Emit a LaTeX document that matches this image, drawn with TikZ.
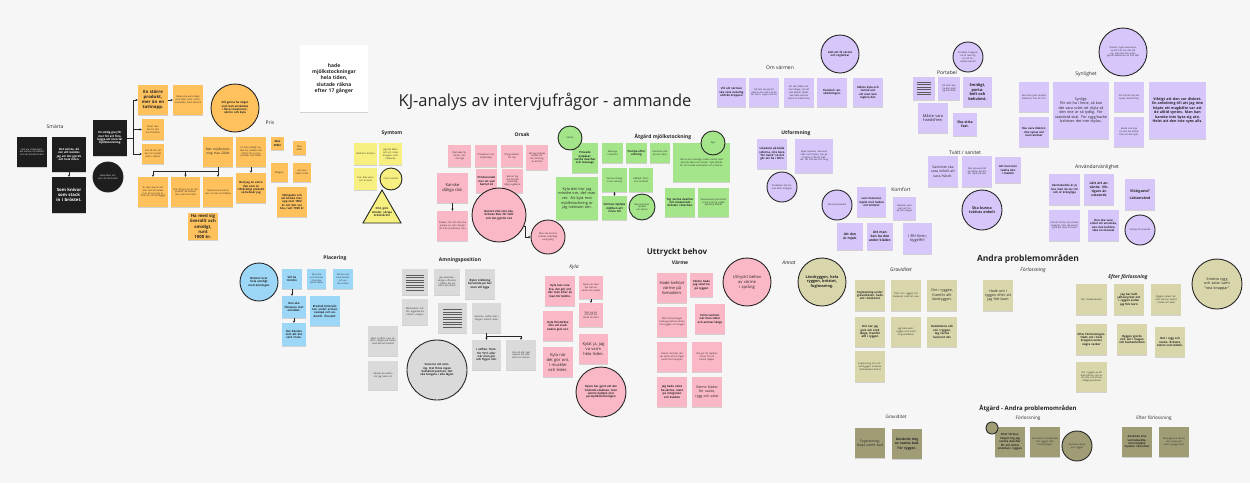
\documentclass[tikz,border=0pt]{standalone}
\usepackage{fontspec}
\setmainfont{Open Sans}
\usetikzlibrary{arrows.meta,shadows,shapes.geometric}

\definecolor{bgc}{RGB}{246,246,246}
\definecolor{ink}{RGB}{38,38,38}
\definecolor{blk}{RGB}{30,30,30}
\definecolor{org}{RGB}{255,193,92}
\definecolor{ylw}{RGB}{247,239,128}
\definecolor{pnk}{RGB}{250,183,197}
\definecolor{grn}{RGB}{164,229,138}
\definecolor{prp}{RGB}{214,198,250}
\definecolor{blu}{RGB}{156,215,248}
\definecolor{gry}{RGB}{218,218,218}
\definecolor{tan}{RGB}{216,214,170}
\definecolor{dtan}{RGB}{160,157,118}

% font sizes for sticky texts
\newcommand\fta{\fontsize{2.3}{2.8}\selectfont}
\newcommand\ftb{\fontsize{2.8}{3.4}\selectfont\bfseries}
\newcommand\ftc{\fontsize{4.1}{5}\selectfont}
\newcommand\ftd{\fontsize{4.3}{5.2}\selectfont\bfseries}
\newcommand\fth{\fontsize{5}{6}\selectfont}

\begin{document}
\begin{tikzpicture}[x=1pt,y=-1pt,
  note/.style={rectangle, inner sep=1pt, align=center, font=\fta, text=ink,
    drop shadow={shadow xshift=0.3pt, shadow yshift=-0.6pt, opacity=0.15, fill=black}},
  wh/.code 2 args={\pgfmathsetmacro\mynw{#1-3}\edef\mytmpa{\noexpand\tikzset{minimum width=#1pt,minimum height=#2pt,text width=\mynw pt}}\mytmpa},
  cr/.code={\pgfmathsetmacro\mycd{2*#1}\pgfmathsetmacro\myct{1.4*#1}\edef\mytmpb{\noexpand\tikzset{minimum size=\mycd pt,text width=\myct pt}}\mytmpb},
  circ/.style={circle, draw=ink, line width=0.9pt, inner sep=0pt, align=center, font=\fta, text=ink},
  nk/.style={note, fill=blk, text=white},
  no/.style={note, fill=org},
  ny/.style={note, fill=ylw},
  np/.style={note, fill=pnk},
  ng/.style={note, fill=grn},
  nv/.style={note, fill=prp},
  nb/.style={note, fill=blu},
  nq/.style={note, fill=gry},
  nt/.style={note, fill=tan},
  nd/.style={note, fill=dtan},
  lab/.style={font=\fth, text=ink},
  labb/.style={font=\fth\bfseries, text=ink},
  labi/.style={font=\fth\itshape, text=ink},
  arr/.style={-{Stealth[length=2.3pt,width=2.4pt]}, draw=ink, line width=0.6pt},
  rule/.style={draw=ink!75, line width=0.55pt}]

\useasboundingbox (0,0) rectangle (1250,483);
\fill[bgc] (0,0) rectangle (1250,483);

% ---------- title and quote ----------
\node[font=\fontsize{16.5}{19}\selectfont, text=ink] (title) at (545,102) {KJ-analys av intervjufrågor - ammande};
\node[note, fill=white, wh={68}{67}, font=\fontsize{5}{6.4}\selectfont\bfseries] (quote) at (334,78.5)
  {hade\\mjölkstockningar\\hela tiden,\\slutade räkna\\efter 17 gånger};

% ---------- Smärta ----------
\node[lab] (lsmarta) at (55,127) {Smärta};
\node[nk, wh={30}{30}] (k1) at (32,152) {Det var smärtsamt, det värkte och kändes som att bröstet brann};
\node[nk, wh={34}{35}, font=\ftb] (k2) at (69,154.5) {Det värsta, då när allt kändes jag att det gjorde ont hela tiden.};
\node[nk, wh={34}{36}, font=\ftd] (k3) at (69,195) {Som knivar som stack in i bröstet.};
\node[nk, wh={34}{36}, font=\ftb] (k4) at (110,138) {En viktig grej för mer för att förebygga att man får mjölkstockning.};
\node[circ, fill=blk, text=white, cr=15] (kc) at (108,177) {Hela tiden ont, som att det brann};

% ---------- Pris ----------
\node[no, wh={30}{30}, font=\ftd] (o1) at (153,100) {En större produkt, mer än en tuttnapp.};
\node[no, wh={30}{30}] (o2) at (188,100) {Skulle inte vara något som följer med i mammaväskan, bara hemma};
\node[no, wh={22}{21}] (o3) at (153,129.5) {Så att man kan ha den hos föräldrar};
\node[no, wh={22}{20}] (o4) at (153,154) {Inte så stor att den tar mycket plats i väskan};
\node[circ, fill=org, cr=24, font=\ftb] (oc) at (235,108) {Vill gärna ha något som kan användas i flera situationer, värme och kyla};
\node[lab] (lpris) at (270,123) {Pris};
\node[no, wh={30}{30}, font=\fontsize{3.2}{3.9}\selectfont] (p1) at (218,152) {Max mjölkstockning max 200kr};
\node[no, wh={30}{30}] (p2) at (251,152) {Är man väldigt mycket har betalat runt 500 kr för en bra produkt som håller};
\node[no, wh={13}{13}, font=\ftb] (p3) at (277.5,143.5) {Max 300kr};
\node[no, wh={13}{14}] (p4) at (299.5,148) {Max 400kr};
\node[no, wh={17}{19}] (p5) at (279.5,172.5) {Billigare};
\node[no, wh={18}{19}] (p6) at (302,172.5) {Inte över 500kr totalt};
\node[no, wh={30}{30}, font=\ftb] (p7) at (251,188) {Bed jag en extra den som är tillräckligt produkt så betalar jag};
\node[no, wh={30}{30}, font=\ftb] (p8) at (292,202) {Viktigaste och att betala mer, upp mot 1000 kr om den var bra, runt 1000 kr};
\node[no, wh={30}{30}] (q1) at (153,192) {Är man sjuk är det mer värt att betala mer än om man är frisk och vill förebygga};
\node[no, wh={29}{30}] (q2) at (185.5,192) {Om det gör ont är det prisvärt, då betalar man vad som helst};
\node[no, wh={30}{30}] (q3) at (218,192) {Skulle kunna betala mer om den var hållbar};
\node[no, wh={30}{27}, font=\ftd] (q4) at (203,226.5) {Ha med sig överallt och smidigt, runt 1000 kr.};

\draw[arr] (k2) -- (k3);
\draw[arr] (k4.east) -- ++(6,0) |- (o1.west);
\draw[arr] (k4.east) -- ++(6,0) |- (o3.west);
\draw[arr] (k4.east) -- ++(6,0) |- (o4.west);
\draw[arr] (o1) -- (o2);
\draw[arr] (p1.south) -- ++(0,4) -| (q1.north);
\draw[arr] (p1.south) -- ++(0,4) -| (q2.north);
\draw[arr] (p1.south) -- (q3.north);
\draw[arr] (p2) -- (p7);

% ---------- Symtom ----------
\node[labb] (lsymtom) at (392,133) {Symtom};
\node[ny, wh={23}{22}] (y1) at (365.5,154) {Rodnad i bröstet};
\node[ny, wh={23}{22}] (y2) at (390.5,154) {Jag fick feber och ont i hela kroppen, som influensa};
\node[ny, wh={23}{22}] (y3) at (365.5,179) {Ont, blev varm och en knöl};
\node[circ, fill=ylw, cr=11] (yc) at (391,179) {Knöl i bröstet};
\node[regular polygon, regular polygon sides=3, minimum size=44pt, inner sep=0pt, fill=ylw, draw=ink, line width=0.9pt] (ytri) at (382,212) {};
\node[font=\ftb, text=ink, align=center, text width=20pt] (ytxt) at (382,212) {Ont, gick sönder, såriga bröstvårtor};

% ---------- Orsak ----------
\node[labb] (lorsak) at (522,135) {Orsak};
\node[np, wh={23}{22}] (r1) at (459.5,156) {Öppnade flytande. Sov i fel läge};
\node[np, wh={22}{22}] (r2) at (486,156) {Produktion och mjölkstopp};
\node[np, wh={22}{22}] (r3) at (512,156) {Trånga kläder, för tajt};
\node[np, wh={22}{25}] (r4) at (537,157.5) {När jag slutade amma, för lite tömning av bröstet};
\node[np, wh={21}{24}, font=\ftb] (r5) at (486.5,181) {Producerade mer än vad barnet åt};
\node[np, wh={21}{24}] (r6) at (512.5,181) {Barnet tog inte bröstet ordentligt, dålig sugteknik};
\node[np, wh={31}{30}, font=\ftc] (r7) at (452.5,188) {Kanske dåliga råd.};
\node[np, wh={31}{30}] (r8) at (452.5,226) {Osäker, hört att man ska pumpa ut, men det gör att man producerar mer};
\node[circ, fill=pnk, cr=27, font=\ftb] (rc1) at (499,215) {Barnet ville inte äta, bröstet blev för fullt och det gjorde ont};
\node[circ, fill=pnk, cr=17] (rc2) at (548,237) {Man ska tömma bröstet ordentligt varje gång};
\draw[arr] (r7) -- (r8);
\draw[arr] (rc1.-25) -- ++(1,0) |- (rc2.west);

% ---------- Åtgärd mjölkstockning ----------
\node[labb] (latgard) at (663,137) {Åtgärd mjölkstockning};
\node[ng, wh={26}{30}, font=\ftb] (g1) at (585,158) {Provade kylpåsar, varma duschar och massage};
\node[ng, wh={21}{20}] (g2) at (612.5,153) {Massage i duschen};
\node[ng, wh={21}{20}, font=\ftb] (g3) at (636.5,153) {Pumpa efter amning};
\node[ng, wh={20}{20}] (g4) at (660,153) {Ammade ofta på den sidan};
\node[ng, wh={57}{39}] (g5) at (701.5,162.5) {Värme och massage, sedan amma med barnets haka mot knölen. Kyla efteråt för att minska svullnaden och smärtan.};
\node[circ, fill=grn, cr=12] (gc1) at (570,138) {Värme};
\node[circ, fill=grn, cr=12] (gc2) at (713,143) {Kyla};
\node[ng, wh={42}{43}, font=\fontsize{3.8}{4.7}\selectfont] (g6) at (577,198.5) {Kyla det tror jag mindre om, det man vet. Att kyla mot mjölkstockning är jag tveksam om.};
\node[ng, wh={25}{24}] (g7) at (614.5,180) {Varma omslag innan amning};
\node[ng, wh={24}{24}] (g8) at (641,180) {Kålblad i BH:n mot svullnad};
\node[ng, wh={25}{24}, font=\ftb] (g9) at (614.5,208) {Värmen hjälpte mjölken att rinna till};
\node[circ, fill=grn, cr=13] (gc3) at (642,207) {Barnmorskan tipsade om värme};
\node[ng, wh={30}{29}, font=\ftb] (g10) at (680,202.5) {Tog varma duschar och masserade bröstet i duschen};
\node[ng, wh={31}{29}] (g11) at (713.5,202.5) {Värmekudde på bröstet innan amning, sedan kylklamp efteråt};
\draw[arr] (g7) -- (g9);

% ---------- Placering ----------
\node[labb] (lplac) at (335,258) {Placering};
\node[circ, fill=blu, cr=19, font=\ftb] (bc) at (259,282) {Bröstet över hela smidigt med amningen};
\node[nb, wh={20}{20}, font=\ftb] (b1) at (292,279) {Vill ha mindre};
\node[nb, wh={19}{20}] (b2) at (316.5,279) {Ska sitta runt bröstet, inte bara på ett ställe};
\node[nb, wh={20}{20}] (b3) at (343,279) {Värme runt hela bröstet och under armen};
\node[nb, wh={24}{22}, font=\ftb] (b4) at (294,307) {Den ska fokusera mot området.};
\node[nb, wh={30}{30}, font=\ftb] (b5) at (325,311) {Bredvid bröstvårtan, under armen, ovanpå och undertill. Överallt.};
\node[nb, wh={24}{23}, font=\ftb] (b6) at (294,334.5) {Det kändes som att det satt i hela.};
\draw[arr] (b1.south) -- (b1.south |- b4.north);
\draw[arr] (b4) -- (b6);

% ---------- Amningsposition ----------
\node[labb] (lamn) at (460,260) {Amningsposition};
\node[nq, wh={26}{26}] (h1) at (415,282) {};
\node[nq, wh={26}{26}] (h2) at (447,282) {Jag ammade i sängen ofta eller i soffan, det var skönt på natten};
\node[nq, wh={30}{30}, font=\ftb] (h3) at (480,284) {Byter ställning beroende på hur man vill ligga};
\node[nq, wh={26}{26}] (h4) at (415,312) {Med kudde i soffan, liggande på natten i sängen};
\node[nq, wh={29}{30}] (h5) at (452.5,318) {};
\node[nq, wh={29}{30}] (h6) at (486.5,318) {Hemma i soffan eller i sängen, ibland i bilen};
\node[nq, wh={29}{30}, font=\ftb] (h7) at (486.5,355) {I soffan, framför TV:n eller när man gör och flyger nåt.};
\node[nq, wh={30}{30}] (h8) at (521,355) {Ute och går med vagnen, på café eller hos vänner};
\node[nq, wh={30}{30}] (h9) at (383,341) {Mest i soffan, men ibland i sängen på natten med barnet bredvid};
\node[nq, wh={30}{29}] (h10) at (383,375.5) {Mycket på natten när jag hade ont};
\node[circ, fill=gry, cr=30, font=\ftb] (hc) at (437,370) {Varierar vid amning. Det finns ingen bestämd position, det ska fungera i alla lägen};
\foreach \yy in {275,277.5,280,282.5,285,287.5,290}
  \draw[rule] (406,\yy) -- (424,\yy);
\foreach \yy in {309.5,312,314.5,317,319.5,322,324.5,327}
  \draw[rule] (443,\yy) -- (462,\yy);
\draw[arr] (h6.south) -- ++(0,3.5) -| (h7.north);
\draw[arr] (h6.south) -- ++(0,3.5) -| (h8.north);

% ---------- Kyla ----------
\node[labi] (lkyla) at (574,267) {Kyla};
\node[np, wh={30}{30}, font=\ftb] (ka) at (560,291) {Kyla kan vara bra, det gör ont där men efter så man får bättre.};
\node[np, wh={24}{23}] (kb) at (591,287.5) {Kylan var skön när det var varmt och svullet};
\node[np, wh={24}{24}] (kk) at (591,315) {Men jag var rädd att det skulle bli värre};
\node[np, wh={30}{30}, font=\ftb] (kd) at (558,326) {Kyla förstärkte inte att svullnaden gick ner.};
\node[np, wh={29}{30}, font=\ftc] (ke) at (593.5,349) {Kylat ja, jag va varm hela tiden.};
\node[np, wh={30}{30}, font=\ftc] (kf) at (558,362) {Kyla när det gör ont. I muskler och leder.};
\node[circ, fill=pnk, cr=25, font=\ftb] (kyc) at (601,392) {Kylan har gjort att det lindrade smärtan, men värme hjälpte mer på mjölkstockningen};
\draw[arr] (kb) -- (kk);

% ---------- Uttryckt behov / Värme ----------
\node[font=\fontsize{8}{9.6}\selectfont\bfseries, text=ink] (luttr) at (677,252) {Uttryckt behov};
\node[labb] (lvarme) at (680,263) {Värme};
\node[np, wh={30}{30}, font=\ftc] (e1) at (672,288) {Hade behövt värme på livmodern.};
\node[np, wh={23}{24}, font=\ftb] (e2) at (701.5,285) {Värme hade jag velat ha på ryggen};
\node[np, wh={30}{30}] (e3) at (672,322) {Efter förlossningen hade jag behövt värme mot ryggen och magen};
\node[np, wh={30}{30}, font=\ftb] (e4) at (710,319) {Extra värmen när man sitter och ammar länge};
\node[np, wh={30}{30}] (e5) at (672,357) {Värme i bröstet, det var skönt att ha något varmt mot kroppen};
\node[np, wh={30}{30}] (e6) at (707,357) {Det gör att mjölken rinner till och värme hjälper};
\node[np, wh={30}{30}, font=\ftb] (e7) at (672,392) {Jag hade velat ha värme, mest på morgonen och kvällen};
\node[np, wh={30}{30}, font=\fontsize{3.5}{4.3}\selectfont] (e8) at (707,392) {Värme kläder för nacke, rygg och axlar};
\node[circ, fill=pnk, cr=24, font=\ftc] (ec) at (747,282) {Uttryckt behov av värme i språng};

% ---------- Annat / Graviditet ----------
\node[labi] (lannat) at (789,263) {Annat};
\node[circ, fill=tan, cr=24, font=\fontsize{3.8}{4.6}\selectfont\bfseries] (tc1) at (822,282) {Ländryggen, hela ryggen, bröstet, foglossning.};
\node[labi] (lgrav) at (901,270) {Graviditet};
\node[nt, wh={30}{31}, font=\ftb] (d1) at (870,295.5) {Foglossning under graviditeten, hade ont i bäckenet};
\node[nt, wh={30}{31}] (d2) at (906,295.5) {Trött, ont i ryggen och bäckenet, svårt att sova};
\node[nt, wh={30}{31}, font=\fontsize{3.6}{4.4}\selectfont] (d3) at (942,295.5) {Ont i ryggen, framför allt ländryggen.};
\node[nt, wh={30}{30}, font=\ftb] (d4) at (870,332) {Ont när jag gick och stod länge, framför allt i ryggen};
\node[nt, wh={30}{30}] (d5) at (906,332) {Jag hade värk i ryggen mot slutet av graviditeten};
\node[nt, wh={30}{30}, font=\ftb] (d6) at (942,332) {Halsbränna och ont i ryggen, tog varma bad mot det};
\node[nt, wh={30}{31}] (d7) at (870,366.5) {Foglossning och ont i ländryggen, använde värmekudde ibland};

% ---------- Andra problemområden ----------
\node[font=\fontsize{8.5}{10}\selectfont\bfseries, text=ink] (landra) at (1028,259) {Andra problemområden};
\node[labi] (lforl) at (1033,270) {Förlossning};
\node[nt, wh={30}{31}, font=\fontsize{3.6}{4.4}\selectfont] (f1) at (998,295.5) {Hade ont i ryggen efter att jag fött barn};
\node[labi, font=\fth\itshape\bfseries] (lefter) at (1128,277) {Efter förlossning};
\node[nt, wh={31}{31}] (f2) at (1091.5,299.5) {Ont i bäckenbotten};
\node[nt, wh={30}{31}, font=\ftb] (f3) at (1129,299.5) {Jag har haft jättemycket ont i ryggen sedan jag fick barn};
\node[nt, wh={30}{31}] (f4) at (1166,299.5) {Ryggen värker när man ammar, spänd i nacke och axlar};
\node[nt, wh={31}{31}, font=\ftb] (f5) at (1091.5,339.5) {Efter förlossningen. Hade ont i hela kroppen under några veckor};
\node[nt, wh={30}{31}, font=\ftb] (f6) at (1132,339.5) {Ryggen gjorde ont, ont i magen och bäckenbotten};
\node[nt, wh={30}{30}, font=\ftb] (f7) at (1170,342) {Ont i rygg och nacke. Bröstet, känns som bältet.};
\node[nt, wh={31}{30}] (f8) at (1091.5,377) {Ont i ryggen av att bära barnet, och av att sitta och amma i dåliga positioner};
\node[circ, fill=tan, cr=25, font=\fontsize{3.7}{4.5}\selectfont] (tc2) at (1217,284) {Smärta rygg och axlar samt ''nea knappar''};

% ---------- Åtgärd - Andra problemområden ----------
\node[font=\fontsize{6}{7}\selectfont\bfseries, text=ink] (latg2) at (1028,409) {Åtgärd - Andra problemområden};
\node[lab, font=\fontsize{4.6}{5.5}\selectfont] (lgrav2) at (896,417) {Graviditet};
\node[lab, font=\fontsize{4.6}{5.5}\selectfont] (lforl2) at (1028,418) {Förlossning};
\node[lab, font=\fontsize{4.6}{5.5}\selectfont] (lefter2) at (1154,418) {Efter förlossning};
\node[nd, wh={30}{30}, font=\fontsize{3.4}{4.2}\selectfont] (x1) at (870,443) {Foglossning: Bada varmt bad};
\node[nd, wh={30}{30}, font=\fontsize{3.4}{4.2}\selectfont\bfseries] (x2) at (907,444) {Använde mig av varma bad. För ryggen.};
\node[nd, wh={30}{30}, font=\ftb] (x3) at (1010,442) {Efter förlossningen tog jag varma duschar för att lindra smärtan i ryggen};
\node[nd, wh={30}{30}] (x4) at (1045,442) {Har använt värmekudde mot ryggen efter förlossningen};
\node[circ, fill=dtan, cr=6] (xc1) at (992,428) {};
\node[circ, fill=dtan, cr=15] (xc2) at (1077,446) {Använde värme mot ryggen};
\node[nd, wh={30}{30}, font=\ftb] (x5) at (1137,442) {Använde inte värmekudde, men hjälpte mycket i duschen};
\node[nd, wh={30}{30}] (x6) at (1174,442) {Massage och värme mot nacke och axlar, sjukgymnast};

% ---------- Om värmen ----------
\node[circ, fill=prp, cr=19, font=\ftb] (vc1) at (840,54) {Lätt att få värme och reglerbar};
\node[lab] (lomv) at (780,68) {Om värmen};
\node[nv, wh={29}{29}, font=\ftb] (v1) at (731.5,92.5) {Vill att värmen ska vara naturlig utifrån kroppen};
\node[nv, wh={30}{29}] (v2) at (764,92.5) {Att den ska gå att värma, den ska inte bli för varm. Lagom värme};
\node[nv, wh={30}{29}] (v3) at (799,92.5) {Att den håller värmen länge, inte att den kallnar direkt. Ska hålla värmen minst en halvtimme};
\node[nv, wh={30}{29}, font=\ftb] (v4) at (832,92.5) {Flexibel i användningen.};
\node[nv, wh={30}{29}, font=\ftb] (v5) at (868,92.5) {Måste kyla och värma och att man kan reglera det.};

% ---------- Portabel ----------
\node[circ, fill=prp, cr=15] (vc2) at (968,57) {Portabel, fungerar att ta med sig ut och använda överallt};
\node[lab] (lport) at (947,73) {Portabel};
\node[nv, wh={22}{23}] (w1) at (924,88.5) {};
\node[nv, wh={22}{23}] (w2) at (949,88.5) {Att man kan ha den med sig hemifrån};
\node[nv, wh={29}{30}, font=\fontsize{3.9}{4.7}\selectfont\bfseries] (w3) at (977.5,92) {Smidigt, portabelt och bekvämt.};
\node[nv, wh={30}{30}, font=\fontsize{3.9}{4.7}\selectfont] (w4) at (933,118) {Måste vara handsfree.};
\node[nv, wh={24}{23}, font=\fontsize{3.5}{4.3}\selectfont\bfseries] (w5) at (965,124.5) {Ska sitta fast.};
\foreach \yy in {82,84.5,87,89.5,92,94.5}
  \draw[rule] (917,\yy) -- (931,\yy);

% ---------- Utformning / Tvätt ----------
\node[labb] (lutf) at (796,133) {Utformning};
\node[nv, wh={30}{30}, font=\ftb] (u1) at (772,154) {Likadant på båda sidorna, inte bara ''för hand'' så det går att ha i BH:n};
\node[nv, wh={38}{34}] (u2) at (814,156) {Mjuk material. Ska vara skön mot huden, inte ge irritation, tåla att tvättas. Får inte vara för tung};
\node[lab] (ltvatt) at (965,153) {Tvätt / sanitet};
\node[nv, wh={30}{31}, font=\fontsize{3.5}{4.3}\selectfont] (t1) at (943,171.5) {Sanitetet ska vara enkelt att vara fräsch.};
\node[nv, wh={30}{31}] (t2) at (977,171.5) {Den ska vara lätt att tvätta, det blir lätt mjölk på den};
\node[nv, wh={26}{26}, font=\ftb] (t3) at (1008,170) {Att man kan tvätta den i maskin};
\node[circ, fill=prp, cr=15] (vc3) at (782,187) {Produkten ska formas efter kroppen};
\node[circ, fill=prp, cr=15] (vc4) at (837,205) {Ska vara bekväm};
\node[lab] (lkomf) at (901,190) {Komfort};
\node[nv, wh={29}{30}, font=\ftb] (m1) at (871.5,202) {Lent material, mjukt mot huden och bröstet};
\node[nv, wh={23}{23}] (m2) at (904.5,208.5) {Behöver vara skön att ha på hela dagen};
\node[circ, fill=prp, cr=20, font=\fontsize{3.7}{4.5}\selectfont\bfseries] (vc5) at (982,210) {Ska kunna tvättas enkelt};
\node[nv, wh={26}{27}, font=\fontsize{3.3}{4}\selectfont\bfseries] (m3) at (850,236.5) {Att den är mjuk.};
\node[nv, wh={26}{27}, font=\fontsize{3.3}{4}\selectfont\bfseries] (m4) at (880,236.5) {Att man kan ha den under kläder.};
\node[nv, wh={29}{31}, font=\fontsize{3.8}{4.6}\selectfont] (m5) at (917.5,238.5) {I BH form; bygelfri!};

% ---------- Synlighet ----------
\node[circ, fill=prp, cr=24] (vc6) at (1123,52) {Diskret, ingen ska kunna se att man har den på sig. Den ska inte synas genom kläderna och inte låta};
\node[lab] (lsyn) at (1086,74) {Synlighet};
\node[nv, wh={30}{30}] (s1) at (1034,97) {Ska inte synas utanpå kläderna, inte för stor};
\node[nv, wh={30}{30}, font=\ftb] (s2) at (1034,132) {Ska vara diskret, inte synas när man ammar};
\node[nv, wh={56}{57}, font=\fontsize{3.7}{4.5}\selectfont] (s3) at (1081,110.5) {Synligt:\\För att ha i linne, så kan det vara svårt att skyla så den inte är så tydlig. För standard-skal. För rygg/nacke behöver det inte skylas.};
\node[nv, wh={30}{30}] (s4) at (1129,97) {Vill inte att det ska synas, diskret färg};
\node[nv, wh={30}{30}] (s5) at (1129,132) {Skulle inte vilja ha den ute bland folk om den syns};
\node[nv, wh={57}{57}, font=\fontsize{3.6}{4.4}\selectfont\bfseries] (s6) at (1177.5,110.5) {Viktigt att den var diskret. En anledning till att jag inte köpte ett magbälte var att de alltid syntes. Man kan kanske inte byta sig ute. Helst att den inte syns alls.};

% ---------- Användarvänlighet ----------
\node[lab] (lanv) at (1097,167) {Användarvänlighet};
\node[nv, wh={31}{31}, font=\ftb] (a1) at (1064.5,189.5) {Värmekudde är ju bra men de tar tid och är krångliga};
\node[nv, wh={30}{31}, font=\fontsize{3.3}{4}\selectfont\bfseries] (a2) at (1099,189.5) {Lätt att använda. Viktigare än utseende};
\node[nv, wh={30}{31}, font=\fontsize{3.6}{4.4}\selectfont\bfseries] (a3) at (1140,194.5) {Viktigaste?\\[3pt]Lättanvänd};
\node[nv, wh={31}{31}] (a4) at (1064.5,225.5) {Lätt att starta, inte massa knappar, man ska kunna göra det med en hand};
\node[nv, wh={31}{31}, font=\ftb] (a5) at (1103.5,225.5) {Den ska vara enkel att använda, ska inte behöva läsa en manual};
\node[circ, fill=prp, cr=15] (vc7) at (1140,230) {Smidig att använda};

\end{tikzpicture}
\end{document}
